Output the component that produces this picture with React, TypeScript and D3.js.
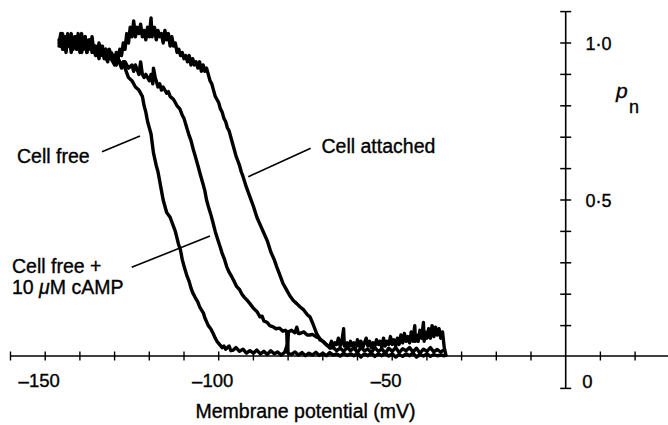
import React from "react";
import * as d3 from "d3";

type Pt = [number, number];

// Voltage (mV) and open probability pn
const cellFree: Pt[] = [
  [-146,1.01],[-145.5,0.99],[-145,1.03],[-144.5,0.98],[-144,1.02],[-143.5,0.99],[-143,1.01],[-142.5,0.97],[-142,1.0],[-141.5,1.02],[-141,0.98],[-140.5,1.01],[-140,0.99],[-139.5,1.03],[-139,0.98],[-138.5,1.0],[-138,0.97],[-137.5,1.01],[-137,0.99],[-136.5,1.02],[-136,0.97],[-135.5,0.99],[-135,0.96],[-134.5,1.0],[-134,0.97],[-133.5,0.99],[-133,0.95],[-132.5,0.98],[-132,0.96],[-131.5,0.98],[-131,0.95],[-130,0.96],[-129.5,0.93],[-129,0.95],[-128,0.93],[-127.5,0.94],[-127,0.92],[-126,0.89],[-125,0.88],[-124,0.86],[-123,0.85],[-122,0.83],[-121.5,0.8],[-121,0.78],[-120.5,0.75],[-119.5,0.71],[-118.8,0.65],[-118,0.61],[-117.5,0.59],[-117,0.56],[-116.5,0.53],[-116,0.5],[-115.5,0.48],[-115,0.46],[-114,0.445],[-113.5,0.43],[-113,0.415],[-112.5,0.4],[-111.6,0.36],[-111,0.34],[-110.5,0.31],[-110,0.29],[-109.2,0.26],[-108.5,0.24],[-108,0.22],[-107.5,0.205],[-106.8,0.19],[-106,0.175],[-105.5,0.16],[-104.4,0.14],[-104,0.125],[-103,0.1],[-102.3,0.09],[-101.6,0.075],[-101,0.06],[-100.5,0.05],[-99.6,0.038],[-99,0.03],[-98.5,0.035],[-98,0.025],[-97,0.035],[-96.5,0.02],[-95.8,0.022],[-95,0.03],[-94,0.018],[-93,0.025],[-92,0.012],[-91,0.02],[-90,0.012],[-89,0.022],[-88,0.01],[-87,0.018],[-86,0.008],[-85,0.02],[-84,0.01],[-83,0.016],[-82,0.006],[-81,0.015],[-80.2,0.04],[-80,0.012],[-79,0.008],[-78,0.016],[-77,0.006],[-76,0.014],[-75,0.004],[-74,0.012],[-73,0.006],[-72,0.015],[-71,0.005],[-70,0.012],[-69,0.004],[-68,0.014],[-67,0.006],[-66,0.01],[-65,0.003],[-64,0.012],[-63,0.005],[-62,0.01],[-61,0.004],[-60,0.012],[-59,0.0],[-58,0.01],[-57,0.004],[-56,0.012],[-55,0.002],[-54,0.01],[-53,0.004],[-52,0.012],[-51,0.003],[-50,0.01],[-49,0.0],[-48,0.008],[-47,0.002],[-46,0.01],[-45,0.004],[-44,0.012],[-43,0.0],[-42,0.008],[-41,0.003],[-40,0.01],[-39,0.002],[-38,0.008],[-37,0.004],[-36,0.006],[-35,0.004]
];

const cellFreeCamp: Pt[] = [
  [-146,0.99],[-145.5,1.02],[-145,0.98],[-144.5,1.01],[-144,0.97],[-143.5,1.02],[-143,0.99],[-142.5,1.03],[-142,0.98],[-141.5,1.0],[-141,1.02],[-140.5,0.98],[-140,1.01],[-139.5,0.97],[-139,1.0],[-138.5,1.02],[-138,0.98],[-137.5,0.99],[-137,1.01],[-136.5,0.97],[-136,0.99],[-135.5,0.96],[-135,0.98],[-134.5,0.95],[-134,0.98],[-133.5,0.96],[-133,0.97],[-132,0.94],[-131.5,0.97],[-131,0.95],[-130,0.93],[-129,0.95],[-128,0.92],[-127,0.94],[-126,0.92],[-125,0.93],[-124.5,0.91],[-124,0.93],[-123,0.9],[-122.5,0.94],[-122,0.9],[-121.5,0.89],[-121,0.9],[-120,0.88],[-119.5,0.9],[-119,0.87],[-118.8,0.92],[-118.3,0.89],[-118,0.88],[-117.5,0.86],[-117,0.87],[-116.5,0.85],[-116,0.86],[-115,0.84],[-114.5,0.845],[-114,0.83],[-113,0.82],[-112,0.8],[-111.2,0.79],[-110.5,0.77],[-110,0.76],[-109.2,0.73],[-108.5,0.705],[-108,0.69],[-107.3,0.66],[-106.5,0.63],[-106,0.61],[-105.4,0.585],[-104.5,0.55],[-104,0.53],[-103.5,0.5],[-103,0.48],[-102.3,0.455],[-101.6,0.426],[-101,0.4],[-100.3,0.375],[-99.6,0.351],[-99,0.33],[-98.3,0.31],[-97.7,0.288],[-97,0.27],[-96.2,0.255],[-95.5,0.24],[-94.8,0.224],[-94,0.215],[-93.3,0.2],[-92.6,0.19],[-91.9,0.182],[-91,0.17],[-90,0.155],[-89,0.145],[-88.1,0.128],[-87.5,0.13],[-87,0.115],[-86,0.11],[-85.3,0.1],[-84.3,0.096],[-83.5,0.09],[-82.5,0.092],[-81.5,0.082],[-80.8,0.085],[-80.4,0.081],[-80.2,0.015],[-79.9,0.08],[-79,0.085],[-78,0.077],[-77.5,0.095],[-77,0.075],[-76.6,0.075],[-75.5,0.08],[-74.5,0.07],[-73.7,0.07],[-73,0.072],[-72,0.065],[-71,0.06],[-70.8,0.054],[-70,0.05],[-69,0.04],[-67.9,0.028],[-67,0.03],[-66,0.02],[-65,0.028],[-64,0.018],[-63,0.03],[-62,0.02],[-61,0.028],[-60,0.015],[-59,0.03],[-58,0.02],[-57,0.025],[-56,0.014],[-55,0.03],[-54,0.018],[-53,0.026],[-52,0.012],[-51,0.028],[-50,0.018],[-49,0.03],[-48,0.014],[-47,0.026],[-46,0.02],[-45,0.03],[-44,0.016],[-43,0.028],[-42,0.012],[-41,0.025],[-40,0.018],[-39,0.03],[-38,0.016],[-37,0.024],[-36,0.015],[-35.5,0.02]
];

const cellAttached: Pt[] = [
  [-146,1.0],[-145.5,1.03],[-145,0.99],[-144.5,1.02],[-144,0.98],[-143.5,1.03],[-143,1.0],[-142.5,1.02],[-142,0.98],[-141.5,1.01],[-141,0.99],[-140.5,1.03],[-140,0.97],[-139.5,1.01],[-139,0.99],[-138.5,1.02],[-138,0.97],[-137.5,1.0],[-137,0.98],[-136.5,1.01],[-136,0.97],[-135.5,0.99],[-135,0.97],[-134,0.99],[-133,0.96],[-132.5,0.98],[-132,0.95],[-131,0.97],[-130,0.95],[-129.5,0.97],[-129,0.95],[-128.5,0.98],[-128,0.96],[-127.5,1.0],[-127,0.98],[-126.5,1.03],[-126,1.0],[-125.5,1.05],[-125,1.02],[-124.5,1.07],[-124,1.02],[-123.5,1.05],[-123,1.03],[-122.5,1.06],[-122,1.02],[-121.5,1.04],[-121,1.01],[-120.5,1.05],[-120,1.02],[-119.5,1.08],[-119.2,1.02],[-118.5,1.05],[-118,1.01],[-117.5,1.04],[-117,1.02],[-116.5,1.03],[-116,1.0],[-115.5,1.04],[-115,1.01],[-114.5,1.03],[-114,0.99],[-113.5,1.02],[-113,0.99],[-112.5,1.0],[-112,0.97],[-111.5,0.98],[-111,0.96],[-110.5,0.97],[-110,0.95],[-109.5,0.96],[-109,0.94],[-108.5,0.96],[-108,0.93],[-107.5,0.95],[-107,0.93],[-106.5,0.94],[-106,0.92],[-105.5,0.94],[-105,0.91],[-104.5,0.93],[-104,0.91],[-103.5,0.92],[-103,0.9],[-102.5,0.88],[-102,0.87],[-101.5,0.85],[-101,0.83],[-100.5,0.82],[-100,0.81],[-99.5,0.79],[-99,0.78],[-98.5,0.76],[-98,0.75],[-97.5,0.73],[-97,0.72],[-96.5,0.7],[-96,0.68],[-95.5,0.66],[-95,0.64],[-94.5,0.625],[-94,0.61],[-93.5,0.59],[-93,0.575],[-92,0.54],[-91,0.51],[-90,0.48],[-89,0.445],[-88,0.42],[-87,0.395],[-86,0.37],[-85,0.335],[-84,0.31],[-83.3,0.288],[-82.5,0.265],[-81.5,0.235],[-80.4,0.213],[-79.5,0.195],[-78.5,0.18],[-77.5,0.17],[-76.6,0.16],[-75.5,0.15],[-74.5,0.135],[-73.7,0.128],[-73,0.11],[-72.3,0.09],[-71.8,0.075],[-71,0.06],[-70,0.05],[-68.9,0.038],[-68,0.035],[-67.5,0.05],[-67,0.03],[-66.5,0.045],[-66,0.04],[-65.5,0.06],[-65,0.035],[-64.5,0.05],[-64,0.09],[-63.8,0.035],[-63,0.045],[-62.5,0.03],[-62,0.05],[-61.5,0.035],[-61,0.045],[-60.5,0.03],[-60,0.055],[-59.5,0.035],[-59,0.05],[-58.5,0.03],[-58,0.045],[-57.5,0.06],[-57,0.035],[-56.5,0.05],[-56,0.03],[-55.5,0.045],[-55,0.035],[-54.5,0.055],[-54,0.04],[-53.5,0.05],[-53,0.03],[-52.5,0.06],[-52,0.035],[-51.5,0.05],[-51,0.04],[-50.5,0.065],[-50,0.04],[-49.5,0.055],[-49,0.035],[-48.5,0.06],[-48,0.04],[-47.5,0.07],[-47,0.045],[-46.5,0.075],[-46,0.05],[-45.5,0.065],[-45,0.045],[-44.5,0.08],[-44,0.05],[-43.5,0.1],[-43.3,0.05],[-43,0.07],[-42.5,0.05],[-42,0.085],[-41.5,0.06],[-41,0.11],[-40.8,0.05],[-40.5,0.08],[-40,0.06],[-39.5,0.09],[-39,0.06],[-38.5,0.1],[-38,0.065],[-37.5,0.095],[-37,0.07],[-36.5,0.09],[-36,0.06],[-35.5,0.08],[-35,0.03],[-34.5,0.005]
];

const xTickValues = [-160, -150, -140, -130, -120, -110, -100, -90, -80, -70, -60, -50, -40, -30, -20, -10, 10, 20];
const xTickLabels: { v: number; text: string }[] = [
  { v: -150, text: "\u2013150" },
  { v: -100, text: "\u2013100" },
  { v: -50, text: "\u201350" },
];
const yTickValues = [-0.1, 0.1, 0.2, 0.3, 0.4, 0.5, 0.6, 0.7, 0.8, 0.9, 1.0, 1.1];
const yTickLabels: { v: number; text: string }[] = [
  { v: 1.0, text: "1\u00b70" },
  { v: 0.5, text: "0\u00b75" },
];

const FONT = "'Liberation Sans', Arial, Helvetica, sans-serif";
const TXT = { fill: "#000", stroke: "#000", strokeWidth: 0.35 };

export default function App() {
  const x = d3.scaleLinear().domain([-160, 0]).range([10.5, 565.7]);
  const y = d3.scaleLinear().domain([0, 1]).range([357, 43]);
  const line = d3
    .line<Pt>()
    .x((d) => x(d[0]))
    .y((d) => y(d[1]));

  const axisY = 356;
  const yAxisX = x(0);

  return (
    <svg
      width={668}
      height={425}
      viewBox="0 0 668 425"
      style={{ position: "absolute", left: 0, top: 0, background: "#fff" }}
      fontFamily={FONT}
    >
      <rect width={668} height={425} fill="#fff" />
      {/* x axis */}
      <line x1={x(-160)} x2={668} y1={axisY} y2={axisY} stroke="#000" strokeWidth={1.4} />
      {xTickValues.map((v) => (
        <line key={v} x1={x(v)} x2={x(v)} y1={axisY - 4.5} y2={axisY + 4.5} stroke="#000" strokeWidth={1.4} />
      ))}
      {xTickLabels.map((t) => (
        <text key={t.v} x={x(t.v) - 6} y={387} textAnchor="middle" fontSize={18.5} {...TXT}>
          {t.text}
        </text>
      ))}
      <text x={587.5} y={388} textAnchor="middle" fontSize={18.5} {...TXT}>0</text>
      <text x={305.5} y={418} textAnchor="middle" fontSize={19.5} {...TXT}>
        Membrane potential (mV)
      </text>

      {/* y axis */}
      <line x1={yAxisX} x2={yAxisX} y1={y(1.1)} y2={y(-0.1)} stroke="#000" strokeWidth={1.6} />
      {yTickValues.map((v) => (
        <line key={v} x1={yAxisX - 5.5} x2={yAxisX + 5.5} y1={y(v)} y2={y(v)} stroke="#000" strokeWidth={1.5} />
      ))}
      {yTickLabels.map((t) => (
        <text key={t.v} x={585.5} y={y(t.v) + 6.5} textAnchor="start" fontSize={18} {...TXT}>
          {t.text}
        </text>
      ))}
      <text x={616} y={98} fontSize={21} fontStyle="italic" {...TXT}>p</text>
      <text x={629} y={113} fontSize={18} {...TXT}>n</text>

      {/* traces */}
      {[cellAttached, cellFreeCamp, cellFree].map((s, i) => (
        <path
          key={i}
          d={line(s) || ""}
          fill="none"
          stroke="#000"
          strokeWidth={3.4}
          strokeLinejoin="round"
          strokeLinecap="round"
        />
      ))}

      {/* annotations */}
      <text x={17} y={163} fontSize={19.5} {...TXT}>Cell free</text>
      <line x1={102} y1={151.7} x2={140} y2={136} stroke="#000" strokeWidth={1.6} />

      <text x={321.5} y={153} fontSize={19.5} {...TXT}>Cell attached</text>
      <line x1={248.3} y1={176.7} x2={310.7} y2={148.3} stroke="#000" strokeWidth={1.6} />

      <text x={12} y={273} fontSize={19.5} {...TXT}>Cell free +</text>
      <text x={12} y={294} fontSize={19.5} {...TXT}>
        10 <tspan fontStyle="italic">μ</tspan>M cAMP
      </text>
      <line x1={131.7} y1={267.3} x2={210} y2={236} stroke="#000" strokeWidth={1.6} />
    </svg>
  );
}
